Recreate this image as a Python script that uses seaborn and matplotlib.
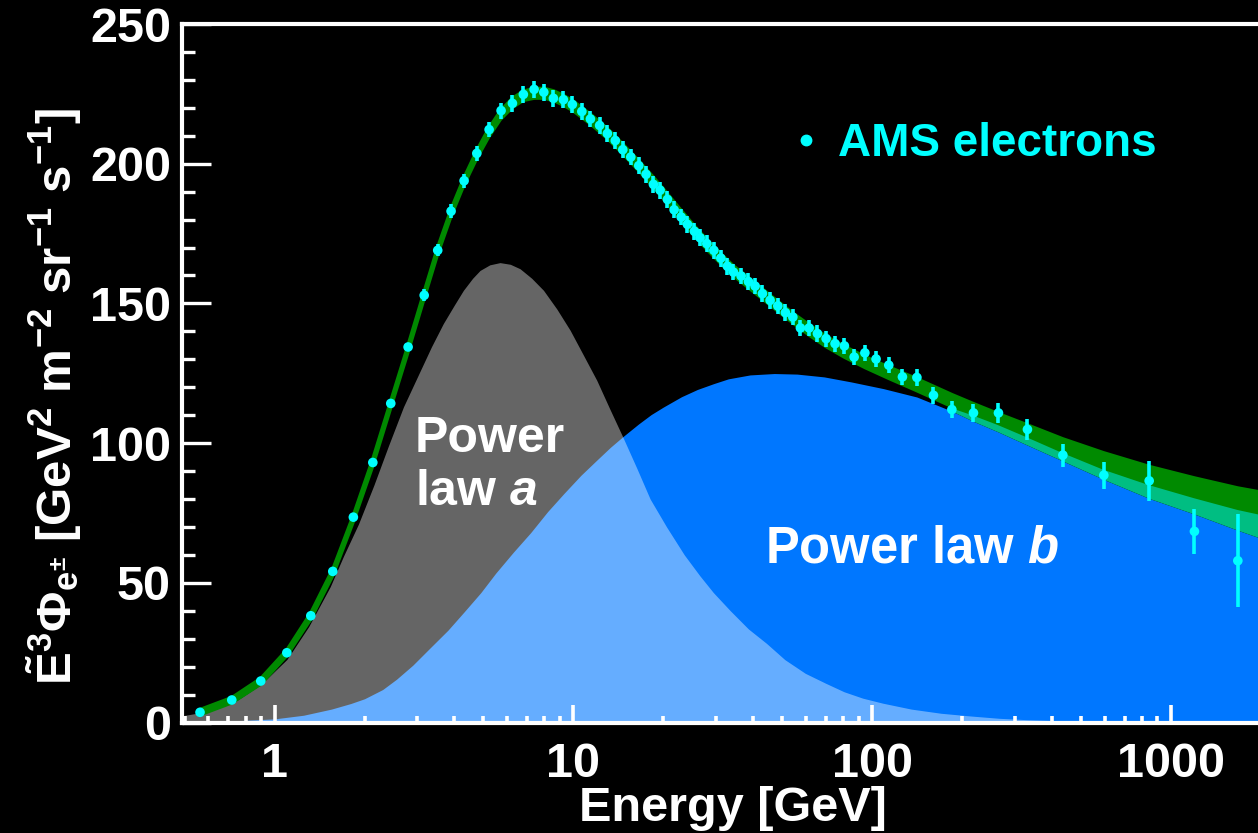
import numpy as np
import matplotlib
matplotlib.use("Agg")
import matplotlib.pyplot as plt
from matplotlib.lines import Line2D
from matplotlib.ticker import FixedLocator, FixedFormatter, LogLocator, MultipleLocator, NullFormatter
import seaborn as sns

# AMS electron flux scaled by E^3 [GeV^2 m^-2 sr^-1 s^-1]
energy = [0.563, 0.719, 0.899, 1.099, 1.322, 1.566, 1.835, 2.132, 2.448, 2.798,
          3.167, 3.515, 3.896, 4.307, 4.751, 5.223, 5.728, 6.251, 6.80, 7.387,
          7.96, 8.573, 9.26, 9.92, 10.67, 11.40, 12.24, 12.99, 13.81, 14.63,
          15.56, 16.55, 17.51, 18.53, 19.51, 20.64, 21.73, 22.94, 24.07, 25.41,
          26.55, 27.96, 29.51, 31.14, 32.77, 34.32, 36.42, 38.53, 40.56, 42.91,
          45.53, 48.31, 51.23, 54.24, 57.51, 61.50, 65.56, 70.1, 75.1, 80.7,
          87.0, 94.5, 103.0, 113.6, 126.2, 141.1, 160.3, 184.7, 218.2, 264.5,
          330.7, 434.5, 595.7, 844.9, 1197.5, 1673.0]
flux = [3.65, 8.05, 14.84, 24.96, 38.2, 54.08, 73.5, 93.06, 114.2, 134.4,
        152.9, 169.0, 183.0, 193.9, 203.7, 212.2, 219.0, 221.6, 224.8, 226.6,
        225.6, 223.4, 222.9, 221.2, 218.7, 216.0, 213.7, 210.8, 208.3, 205.0,
        202.4, 199.3, 196.2, 192.6, 190.5, 187.2, 183.5, 180.9, 178.3, 175.8,
        173.5, 171.4, 169.0, 166.2, 163.3, 161.2, 159.8, 157.8, 156.2, 153.5,
        151.1, 149.1, 146.7, 145.1, 141.2, 141.2, 139.2, 137.4, 135.6, 134.8,
        130.8, 132.3, 130.1, 127.9, 123.7, 123.5, 117.1, 112.0, 110.8, 110.8,
        104.9, 95.7, 88.5, 86.5, 68.4, 57.9]
flux_err = [0.5, 0.6, 0.7, 0.8, 0.9, 1.0, 1.1, 1.2, 1.4, 1.6,
            2.2, 2.2, 2.4, 2.5, 2.6, 2.8, 2.9, 3.0, 3.0, 3.0,
            3.0, 3.0, 3.0, 3.0, 3.0, 3.0, 3.0, 3.0, 3.0, 3.0,
            3.0, 3.0, 3.0, 3.0, 3.0, 3.0, 3.0, 3.0, 3.0, 3.0,
            3.0, 3.0, 3.0, 3.0, 3.0, 3.0, 3.0, 3.0, 3.0, 3.0,
            3.0, 3.0, 3.0, 3.0, 3.0, 3.0, 2.9, 2.9, 2.9, 2.9,
            2.8, 2.8, 2.8, 2.8, 2.8, 2.9, 3.0, 3.1, 3.1, 3.6,
            3.7, 4.1, 4.9, 7.1, 8.0, 16.6]

# Fit band (sum of both power laws)
fit_energy = [0.56, 0.72, 0.9, 1.1, 1.32, 1.57, 1.84, 2.13, 2.45, 2.8,
              3.15, 3.5, 3.9, 4.3, 4.75, 5.2, 5.7, 6.25, 6.8, 7.4,
              8.0, 8.6, 9.3, 10, 11.4, 13, 14.6, 16.5, 18.5, 20.6,
              23, 25.4, 28, 31, 34.3, 38.5, 42.9, 48.3, 54.2, 61.5,
              70, 80.7, 94.5, 113.6, 141, 185, 218, 264, 330, 434,
              595, 845, 1197, 1673, 2000]
fit_high = [4.6, 9.0, 15.9, 26.1, 39.2, 55.3, 74.7, 94.4, 115.4, 135.4,
            153.6, 169.7, 184.0, 195.0, 204.8, 212.6, 219.0, 223.5, 226.0, 227.0,
            227.0, 226.1, 224.4, 222.4, 217.8, 212.6, 207.2, 201.2, 195.3, 189.4,
            183.2, 177.8, 172.8, 168.0, 163.5, 159.2, 155.2, 150.8, 146.6, 142.4,
            138.3, 134.7, 131.0, 127.3, 123.1, 117.4, 114.2, 110.6, 106.6, 101.6,
            96.6, 91.7, 87.6, 84.0, 82.5]
fit_low = [2.6, 7.0, 13.7, 23.9, 36.8, 52.7, 72.1, 91.6, 112.6, 132.6,
           150.8, 166.9, 181.2, 192.2, 201.8, 209.4, 215.8, 220.1, 222.6, 223.4,
           223.4, 222.5, 220.8, 218.8, 214.2, 209.0, 203.6, 197.6, 191.7, 185.8,
           179.6, 174.2, 169.2, 164.4, 159.9, 155.6, 151.6, 147.2, 143.0, 138.6,
           134.5, 130.7, 127.0, 123.1, 118.7, 113.0, 110.4, 107.0, 102.6, 97.0,
           91.0, 85.5, 80.8, 76.6, 74.8]

# Power law a component
law_a_energy = [0.49, 0.6, 0.75, 0.9, 1.1, 1.3, 1.535, 1.7, 1.908, 2.15,
                2.404, 2.7, 3.03, 3.35, 3.67, 4.0, 4.285, 4.6, 4.87, 5.25,
                5.68, 6.15, 6.63, 7.25, 7.94, 8.8, 9.75, 10.8, 11.97, 13.2,
                14.63, 16.3, 18.06, 20.5, 23.5, 26.5, 29.4, 33.5, 38.5, 44.3,
                51, 59.7, 70, 80.5, 93, 108.6, 135, 170, 215, 266,
                330, 400, 700, 2000]
law_a = [2.4, 4.0, 8.0, 13.6, 22.6, 34.3, 48.6, 59.5, 71.0, 85.0,
         99.0, 113.0, 124.5, 134.5, 142.8, 149.5, 154.7, 159.0, 161.8, 163.8,
         164.6, 164.0, 162.4, 159.0, 154.7, 148.0, 140.4, 131.5, 122.5, 112.5,
         102.2, 91.0, 80.0, 70.0, 60.0, 52.5, 46.5, 40.0, 33.5, 28.3,
         22.5, 17.6, 14.0, 11.0, 8.7, 6.9, 4.8, 3.3, 2.3, 1.5,
         1.0, 0.7, 0.3, 0.1]

# Power law b component
law_b_energy = [0.49, 0.7, 1.0, 1.25, 1.55, 1.8, 2.0, 2.3, 2.56, 2.9,
                3.3, 3.8, 4.3, 4.9, 5.5, 6.3, 7.2, 8.2, 9.3, 10.6,
                12, 13.3, 14.6, 16.5, 18.2, 20, 23, 26, 29.5, 33,
                39, 47, 56, 69, 85, 109, 141, 185, 218, 264,
                330, 434, 595, 845, 1197, 1673, 2000]
law_b = [0.2, 0.5, 1.3, 2.6, 4.8, 6.8, 8.5, 11.8, 15.5, 20.5,
         26.5, 33.0, 39.5, 46.5, 53.5, 61.0, 68.0, 75.5, 82.0, 88.5,
         94.0, 98.5, 102.2, 106.8, 110.2, 112.9, 116.6, 119.2, 121.3, 123.0,
         124.4, 124.9, 124.7, 123.7, 121.9, 119.5, 116.5, 111.4, 107.8, 104.0,
         99.3, 93.6, 87.0, 80.2, 74.6, 68.8, 65.9]

# Upper edge of the high-energy uncertainty of power law b
law_b_upper = [113.0, 110.4, 107.0, 102.6, 97.0, 91.0, 85.5, 80.8, 76.6, 74.8]

x_ticks = [1, 10, 100, 1000]
x_tick_labels = ["1", "10", "100", "1000"]

sns.set_theme(style="dark")
plt.rcParams.update({
    "font.family": ["Liberation Sans", "DejaVu Sans"],
    "font.weight": "bold",
    "mathtext.fontset": "custom",
    "mathtext.rm": "Liberation Sans:bold",
    "mathtext.bf": "Liberation Sans:bold",
    "mathtext.it": "Liberation Sans:italic:bold",
    "mathtext.sf": "Liberation Sans:bold",
    "axes.grid": False,
    "text.color": "white",
})

W, H = 1258, 833
fig = plt.figure(figsize=(W / 100, H / 100), dpi=100, facecolor="black")
ax = fig.add_axes([182 / W, 110.5 / H, 1079 / W, 698.5 / H])
ax.set_facecolor("black")
ax.set_xscale("log")
ax.set_xlim(0.49, 2000)
ax.set_ylim(0, 250)

# component areas
ax.fill_between(law_b_energy, 0, law_b, color="#0077FF", lw=0, zorder=1)
ax.fill_between(law_a_energy, 0, law_a, color="white", alpha=0.4, lw=0, zorder=1.2)
n_up = len(law_b_upper)
ax.fill_between(law_b_energy[-n_up:], law_b[-n_up:], law_b_upper,
                color="#00BE82", lw=0, zorder=1.4)

# total fit band
green = "#008A00"
ax.fill_between(fit_energy, fit_low, fit_high, color=green, lw=0, zorder=1.6)
sns.lineplot(x=fit_energy, y=fit_high, ax=ax, color=green, lw=2.2, zorder=1.6,
             sort=False, estimator=None)
sns.lineplot(x=fit_energy, y=fit_low, ax=ax, color=green, lw=2.2, zorder=1.6,
             sort=False, estimator=None)

# data
cyan = "#00FFFF"
ax.errorbar(energy, flux, yerr=flux_err, fmt="none", ecolor=cyan,
            elinewidth=2.6, capsize=0, zorder=6)
sns.scatterplot(x=energy, y=flux, ax=ax, color=cyan, s=48, edgecolor="none",
                zorder=7, legend=False)

# labels on the components
ax.text(2.95, 92, "Power\nlaw $a$", color="white", fontsize=36, fontweight="bold",
        ha="left", va="center", linespacing=1.2, zorder=8)
ax.text(43.8, 62.0, "Power law $b$", color="white", fontsize=36.5, fontweight="bold",
        ha="left", va="center", zorder=8)

# legend
handle = Line2D([], [], marker="o", ls="none", color=cyan, markersize=7.5)
ax.legend([handle], ["AMS electrons"], loc="center left",
          bbox_to_anchor=(0.568, 0.828), frameon=False, handlelength=0.5,
          handletextpad=0.45, borderpad=0, borderaxespad=0,
          labelcolor=cyan, prop={"weight": "bold", "size": 33})

# axes styling
for side in ["left", "bottom", "top"]:
    ax.spines[side].set_color("white")
    ax.spines[side].set_linewidth(3)
    ax.spines[side].set_visible(True)
    ax.spines[side].set_zorder(9)
ax.spines["right"].set_visible(False)
ax.set_axisbelow(False)
ax.xaxis.set_zorder(9)
ax.yaxis.set_zorder(9)

ax.xaxis.set_major_locator(FixedLocator(x_ticks))
ax.xaxis.set_major_formatter(FixedFormatter(x_tick_labels))
ax.xaxis.set_minor_locator(LogLocator(base=10, subs=np.arange(2, 10), numticks=20))
ax.xaxis.set_minor_formatter(NullFormatter())
ax.yaxis.set_major_locator(MultipleLocator(50))
ax.yaxis.set_minor_locator(MultipleLocator(10))

ax.tick_params(axis="y", which="major", direction="in", length=21, width=2.4,
               color="white", labelcolor="white", labelsize=35, pad=8,
               left=True, right=False)
ax.tick_params(axis="y", which="minor", direction="in", length=9.5, width=2.4,
               color="white", left=True, right=False)
ax.tick_params(axis="x", which="major", direction="in", length=13, width=2.6,
               color="white", labelcolor="white", labelsize=35, pad=14,
               bottom=True, top=False)
ax.tick_params(axis="x", which="minor", direction="in", length=5, width=2.6,
               color="white", bottom=True, top=False)
for lab in ax.get_xticklabels() + ax.get_yticklabels():
    lab.set_fontweight("bold")

ax.set_xlabel("Energy [GeV]", color="white", fontsize=35, fontweight="bold")
ax.xaxis.set_label_coords(0.511, -0.091)
ax.set_ylabel(r"$\tilde{\mathbf{E}}^{\mathbf{3}}\Phi_{\mathbf{e}^{\pm}}$ "
              r"[GeV$^{\mathbf{2}}$ m$^{\mathbf{-2}}$ sr$^{\mathbf{-1}}$ s$^{\mathbf{-1}}$]",
              color="white", fontsize=35.5, fontweight="bold", va="center")
ax.yaxis.set_label_coords(-0.118, 0.466)

fig.savefig("out.png", dpi=100, facecolor="black")
